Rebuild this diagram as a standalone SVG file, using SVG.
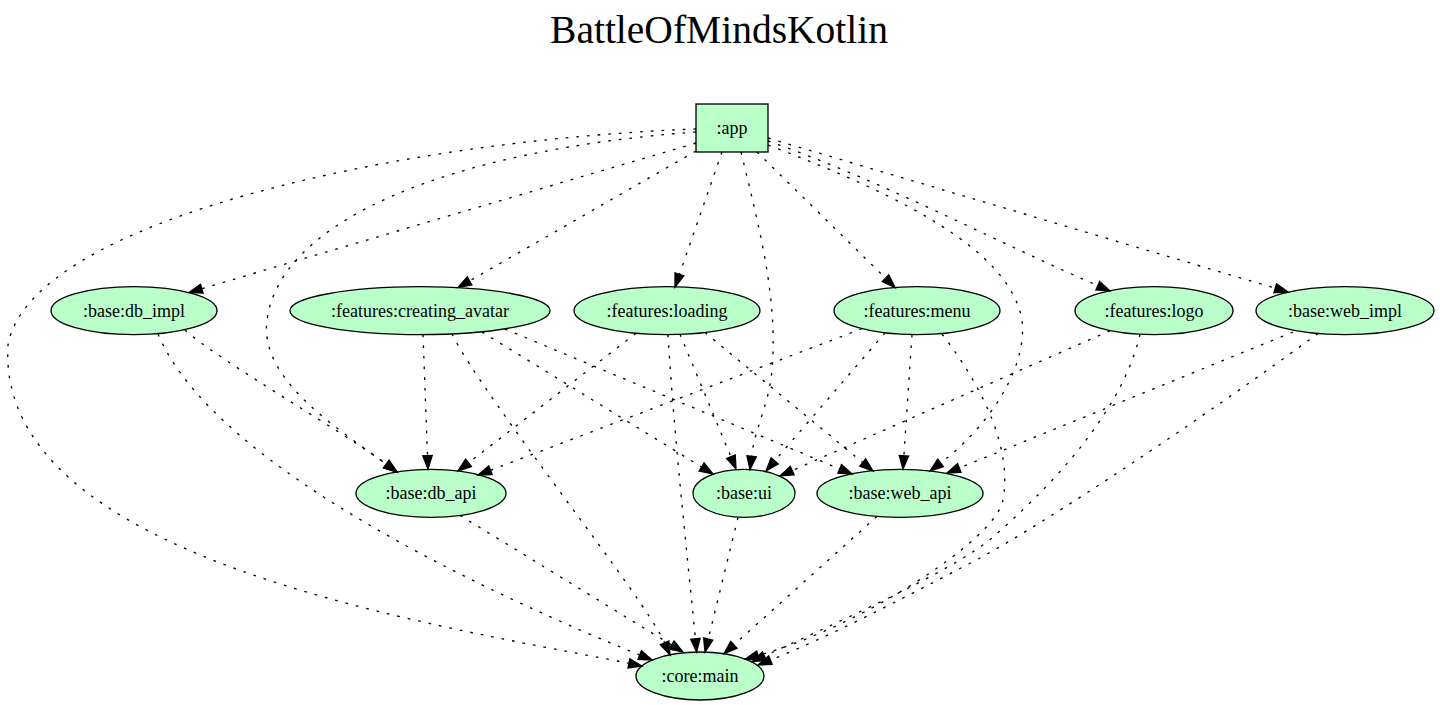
<svg xmlns="http://www.w3.org/2000/svg" width="1440" height="705" viewBox="0 0 1440 705">
<style>
.bg{fill:#ffffff}
.node{fill:#baffc9;stroke:#000;stroke-width:1.33}
.lbl{font-family:"Liberation Serif","Times New Roman",serif;font-size:18px;fill:#000;text-anchor:middle}
.title{font-family:"Liberation Serif","Times New Roman",serif;font-size:39.5px;fill:#000;text-anchor:middle}
.edge{fill:none;stroke:#000;stroke-width:1.33;stroke-dasharray:2.67,8;marker-end:url(#ah)}
</style>
<defs>
<marker id="ah" markerUnits="userSpaceOnUse" markerWidth="16" markerHeight="12" refX="0" refY="6" orient="auto" overflow="visible">
<path d="M0,1.33 L13.33,6 L0,10.67 Z" fill="#000" stroke="#000" stroke-width="1.33" stroke-dasharray="none"/>
</marker>
</defs>
<rect class="bg" x="0" y="0" width="1440" height="705"/>
<text class="title" x="719" y="43">BattleOfMindsKotlin</text>

<g id="app"><rect class="node" x="696" y="104" width="72" height="48"/><text class="lbl" x="732" y="134">:app</text></g>
<g id="base_db_impl"><ellipse class="node" cx="134" cy="310.7" rx="83" ry="24"/><text class="lbl" x="134" y="316.7">:base:db_impl</text></g>
<g id="features_creating_avatar"><ellipse class="node" cx="420" cy="310.7" rx="130" ry="24"/><text class="lbl" x="420" y="316.7">:features:creating_avatar</text></g>
<g id="features_loading"><ellipse class="node" cx="667" cy="310.7" rx="93" ry="24"/><text class="lbl" x="667" y="316.7">:features:loading</text></g>
<g id="features_menu"><ellipse class="node" cx="917" cy="310.7" rx="83" ry="24"/><text class="lbl" x="917" y="316.7">:features:menu</text></g>
<g id="features_logo"><ellipse class="node" cx="1154" cy="310.7" rx="79" ry="24"/><text class="lbl" x="1154" y="316.7">:features:logo</text></g>
<g id="base_web_impl"><ellipse class="node" cx="1345" cy="310.7" rx="89" ry="24"/><text class="lbl" x="1345" y="316.7">:base:web_impl</text></g>
<g id="base_db_api"><ellipse class="node" cx="431" cy="493.3" rx="75" ry="24"/><text class="lbl" x="431" y="499.3">:base:db_api</text></g>
<g id="base_ui"><ellipse class="node" cx="744" cy="493.3" rx="51" ry="24"/><text class="lbl" x="744" y="499.3">:base:ui</text></g>
<g id="base_web_api"><ellipse class="node" cx="900" cy="493.3" rx="83" ry="24"/><text class="lbl" x="900" y="499.3">:base:web_api</text></g>
<g id="core_main"><ellipse class="node" cx="700" cy="676" rx="64" ry="24"/><text class="lbl" x="700" y="682">:core:main</text></g>

<g id="edges">
<path class="edge" d="M696,143 L201.8,288.7"/>
<path class="edge" d="M696,151 L469.6,280.9"/>
<path class="edge" d="M722,152 L679.4,274.4"/>
<path class="edge" d="M757,152 L885.5,278.2"/>
<path class="edge" d="M768,141 C880,180 987.8,237.7 1097.8,285.7"/>
<path class="edge" d="M768,138 L1275.2,288.2"/>
<path class="edge" d="M768,145 C900,195 1010,250 1022,320 C1028,370 985.6,429 940.6,463"/>
<path class="edge" d="M741,152 C760,230 778,300 772,370 C769,405 755.2,426.3 751.6,456.3"/>
<path class="edge" d="M696,132 C450,150 280,220 267,320 C259,380 338,428.6 386.3,464.1"/>
<path class="edge" d="M696,129 C400,140 30,220 8,345 C-5,560 428.9,623.4 628.9,663.4"/>
<path class="edge" d="M185,330 C215,358 338,428.6 386.3,464.1"/>
<path class="edge" d="M158,334 C215,470 500.8,598.4 639.7,655"/>
<path class="edge" d="M423,334.6 L427.5,455.7"/>
<path class="edge" d="M452,334 C485,400 644.4,597 664.6,642.8"/>
<path class="edge" d="M482,332 L701.6,467"/>
<path class="edge" d="M505,329 L839.7,468.9"/>
<path class="edge" d="M636,333.3 L468.5,462.8"/>
<path class="edge" d="M668,334.7 C675,450 690,580 695.4,638.8"/>
<path class="edge" d="M680,334.3 L730.9,456.7"/>
<path class="edge" d="M705,332.6 L862.7,462.5"/>
<path class="edge" d="M862,328.7 L490.5,470.3"/>
<path class="edge" d="M885,332.8 L774.7,460.9"/>
<path class="edge" d="M912,334.7 L903.9,455.7"/>
<path class="edge" d="M942,334 C985,390 1012,450 1003,500 C996,540 860,627 758,655.5"/>
<path class="edge" d="M1110,330.7 L792.2,470.6"/>
<path class="edge" d="M1140,334.3 C1125,400 1070,470 993,537 C953,572 820,630 764.4,656.1"/>
<path class="edge" d="M1318,333.5 C1200,420 1050,520 980,558 C900,600 830.4,636.1 770.4,660.1"/>
<path class="edge" d="M1293,332 L959.3,468"/>
<path class="edge" d="M460,515.4 L671.6,645"/>
<path class="edge" d="M738,517.5 L708.2,639.1"/>
<path class="edge" d="M877,516.4 L733.9,644.8"/>
</g>
</svg>
